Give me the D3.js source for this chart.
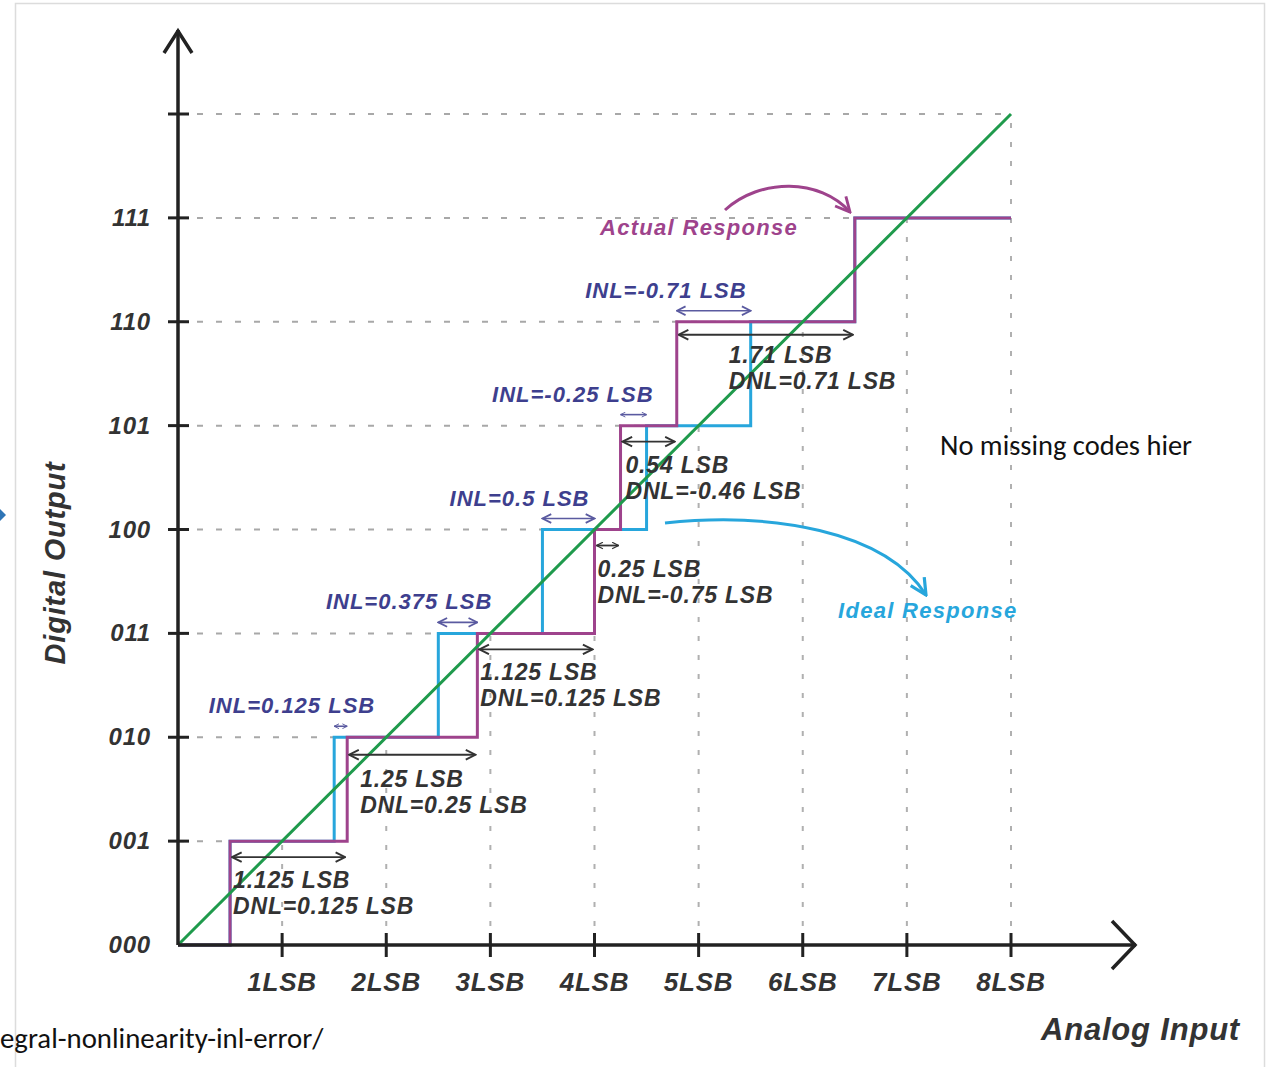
<!DOCTYPE html>
<html><head><meta charset="utf-8">
<script src="https://cdn.jsdelivr.net/npm/d3@7"></script>
<style>html,body{margin:0;padding:0;background:#fff;}svg{display:block;}</style>
</head><body>
<svg id="c" width="1273" height="1067"></svg>
<script>
// ---- data ----
const codeLabels = ["000","001","010","011","100","101","110","111"];
const xTickLabels = ["1LSB","2LSB","3LSB","4LSB","5LSB","6LSB","7LSB","8LSB"];
const idealTransitions = [0.5, 1.5, 2.5, 3.5, 4.5, 5.5, 6.5];
const actualTransitions = [0.5, 1.625, 2.875, 4.0, 4.25, 4.79, 6.5];
const codeWidthLabels = ["1.125 LSB","1.25 LSB","1.125 LSB","0.25 LSB","0.54 LSB","1.71 LSB"];
const dnlLabels = ["DNL=0.125 LSB","DNL=0.25 LSB","DNL=0.125 LSB","DNL=-0.75 LSB","DNL=-0.46 LSB","DNL=0.71 LSB"];
const inlLabels = ["INL=0.125 LSB","INL=0.375 LSB","INL=0.5 LSB","INL=-0.25 LSB","INL=-0.71 LSB"];
const fullScale = 8;

// ---- layout ----
const svg = d3.select("#c");
const x = d3.scaleLinear().domain([0, fullScale]).range([178, 1011]);
const y = d3.scaleLinear().domain([0, fullScale]).range([945, 114]);
const FONT = "'Liberation Sans', Arial, sans-serif";
const PURPLE = "#9e438c", BLUE = "#27a6dc", GREEN = "#1f9a4c", INLC = "#3e3f8e", DARK = "#333";

// frame
svg.append("rect").attr("x",15.5).attr("y",3.5).attr("width",1249).attr("height",1070)
  .attr("fill","none").attr("stroke","#dcdcdc").attr("stroke-width",1.5);
// blue arrow fragment at left edge
svg.append("path").attr("d","M0,509 L6,515 L0,521 Z").attr("fill","#2e75b6");

// markers
const defs = svg.append("defs");
function mk(id, color, size){
  const m = defs.append("marker").attr("id",id).attr("viewBox","0 0 10 10")
    .attr("refX",9).attr("refY",5).attr("markerWidth",size).attr("markerHeight",size)
    .attr("orient","auto-start-reverse").attr("markerUnits","userSpaceOnUse");
  m.append("path").attr("d","M1,1 L9,5 L1,9").attr("fill","none").attr("stroke",color).attr("stroke-width",1.6);
}
mk("aDark", DARK, 12); mk("aDarkS", DARK, 8); mk("aInl", "#5a5aa0", 11); mk("aInlS", "#5a5aa0", 6);
mk("aPurple", PURPLE, 18); mk("aBlue", BLUE, 20);

// grid: horizontal dashed to diagonal, vertical dotted up to diagonal
const levels = d3.range(1, fullScale + 1);
svg.append("g").selectAll("line").data(levels).join("line")
  .attr("x1", x(0)).attr("x2", d => x(d)).attr("y1", d => y(d)).attr("y2", d => y(d))
  .attr("stroke","#a8a8a8").attr("stroke-width",2).attr("stroke-dasharray","6,13");
svg.append("g").selectAll("line").data(levels).join("line")
  .attr("x1", d => x(d)).attr("x2", d => x(d)).attr("y1", y(0)).attr("y2", d => y(d))
  .attr("stroke","#b0b0b0").attr("stroke-width",2).attr("stroke-dasharray","5,14");

// step lines
const stepLine = d3.line().x(d => x(d[0])).y(d => y(d[1])).curve(d3.curveStepAfter);
const idealPts = [[0,0]].concat(idealTransitions.map((t,i)=>[t,i+1]), [[fullScale, idealTransitions.length]]);
const actualPts = [[0,0]].concat(actualTransitions.map((t,i)=>[t,i+1]), [[fullScale, actualTransitions.length]]);
svg.append("path").attr("d", stepLine(idealPts)).attr("fill","none").attr("stroke",BLUE).attr("stroke-width",3);
svg.append("path").attr("d", stepLine(actualPts)).attr("fill","none").attr("stroke",PURPLE).attr("stroke-width",3);

// ideal diagonal
svg.append("line").attr("x1",x(0)).attr("y1",y(0)).attr("x2",x(fullScale)).attr("y2",y(fullScale))
  .attr("stroke",GREEN).attr("stroke-width",3);

// axes
const ax = svg.append("g").attr("stroke","#222").attr("stroke-width",3.5).attr("fill","none");
ax.append("line").attr("x1",x(0)).attr("y1",y(0)).attr("x2",x(0)).attr("y2",30);
ax.append("path").attr("d",`M${x(0)-14},53 L${x(0)},31 L${x(0)+14},53`);
ax.append("line").attr("x1",x(0)).attr("y1",y(0)).attr("x2",1136).attr("y2",y(0));
ax.append("path").attr("d",`M1112,${y(0)-24} L1135,${y(0)} L1112,${y(0)+24}`);
ax.selectAll(".yt").data(levels).join("line").attr("class","yt")
  .attr("x1",x(0)-10).attr("x2",x(0)+11).attr("y1",d=>y(d)).attr("y2",d=>y(d)).attr("stroke-width",3);
ax.selectAll(".xt").data(levels).join("line").attr("class","xt")
  .attr("x1",d=>x(d)).attr("x2",d=>x(d)).attr("y1",y(0)-12).attr("y2",y(0)+12).attr("stroke-width",3);

function txt(g, s, px, py, size, color, anchor){
  return g.append("text").attr("x",px).attr("y",py).text(s)
    .attr("font-family",FONT).attr("font-weight","bold").attr("font-style","italic")
    .attr("font-size",size).attr("fill",color).attr("text-anchor",anchor||"start")
    .attr("letter-spacing","0.8px");
}

// y tick labels
const tg = svg.append("g");
codeLabels.forEach((c,i)=> txt(tg, c, 151, y(i)+8, 24, DARK, "end"));
// x tick labels
xTickLabels.forEach((c,i)=> txt(tg, c, x(i+1), 991, 26, DARK, "middle"));
// axis titles
txt(tg, "Analog Input", 1240, 1040, 31, DARK, "end");
txt(tg, "Digital Output", 0, 0, 29, DARK, "middle").attr("transform","translate(65,563) rotate(-90)");

// DNL dimension arrows + labels
const dnlDx = [3, 13, 3, 3, 5, 52];
const dnlDy = [0, 3, 0, 0, 0, -6];
const dg = svg.append("g");
codeWidthLabels.forEach((lab,i)=>{
  const lvl = i+1, x0 = x(actualTransitions[i]), x1 = x(actualTransitions[i+1]);
  const ay = y(lvl) + 16 + dnlDy[i]/2;
  const short = (x1 - x0) < 40;
  dg.append("line").attr("x1",x0+2).attr("x2",x1-2).attr("y1",ay).attr("y2",ay)
    .attr("stroke",DARK).attr("stroke-width",1.8)
    .attr("marker-start",short?"url(#aDarkS)":"url(#aDark)").attr("marker-end",short?"url(#aDarkS)":"url(#aDark)");
  txt(dg, lab, x0+dnlDx[i], y(lvl)+47+dnlDy[i], 23, DARK);
  txt(dg, dnlLabels[i], x0+dnlDx[i], y(lvl)+73+dnlDy[i], 23, DARK);
});

// INL arrows + labels
const inlDx = [28, 15, -5, 7, -4];
const ig = svg.append("g");
inlLabels.forEach((lab,i)=>{
  const lvl = i+2, a = x(idealTransitions[i+1]), b = x(actualTransitions[i+1]);
  const lo = Math.min(a,b), hi = Math.max(a,b);
  const ay = y(lvl) - 11;
  const short = (hi - lo) < 30;
  ig.append("line").attr("x1",lo).attr("x2",hi).attr("y1",ay).attr("y2",ay)
    .attr("stroke","#5a5aa0").attr("stroke-width",1.6)
    .attr("marker-start",short?"url(#aInlS)":"url(#aInl)").attr("marker-end",short?"url(#aInlS)":"url(#aInl)");
  txt(ig, lab, hi+inlDx[i], y(lvl)-24, 22, INLC, "end").attr("letter-spacing","1px");
});

// legend-like annotations
txt(svg, "Actual Response", 600, 235, 22, PURPLE).attr("letter-spacing","1.3px");
svg.append("path").attr("d","M725,210 C760,178 820,178 850,212").attr("fill","none")
  .attr("stroke",PURPLE).attr("stroke-width",3).attr("marker-end","url(#aPurple)");
txt(svg, "Ideal Response", 838, 618, 22, BLUE).attr("letter-spacing","1.3px");
svg.append("path").attr("d","M665,523 C770,512 885,530 926,595").attr("fill","none")
  .attr("stroke",BLUE).attr("stroke-width",3).attr("marker-end","url(#aBlue)");

// plain notes
svg.append("text").attr("x",940).attr("y",455).text("No missing codes hier")
  .attr("font-family","Carlito, Lato, 'Open Sans', sans-serif").attr("font-size",28.5).attr("fill","#111");
svg.append("text").attr("x",0).attr("y",1048).text("egral-nonlinearity-inl-error/")
  .attr("font-family","Carlito, Lato, 'Open Sans', sans-serif").attr("font-size",28.8).attr("fill","#111");
</script>
</body></html>
